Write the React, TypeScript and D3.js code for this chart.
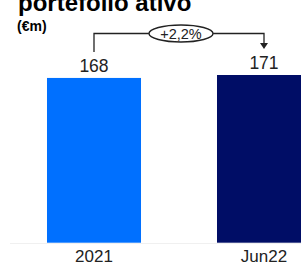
import React from "react";
import * as d3 from "d3";

const categories = ["2021", "Jun22"];
const values = [168, 171];
const valueLabels = ["168", "171"];
const colors = ["#0070ff", "#000d66"];
const changeLabel = "+2,2%";

const width = 301;
const height = 266;
const font = "'Liberation Sans', Arial, sans-serif";

const App = () => {
  const x = d3
    .scaleBand()
    .domain(categories)
    .range([-29, 387])
    .paddingInner(0.447)
    .paddingOuter(0.447);

  const y = d3.scaleLinear().domain([0, 171]).range([242.7, 75]);

  const cx = (c) => x(c) + x.bandwidth() / 2;
  const lineY = 33.5;
  const x1 = cx(categories[0]);
  const x2 = cx(categories[1]);
  const midX = 181;

  return (
    <svg
      width={width}
      height={height}
      style={{ position: "absolute", left: 0, top: 0 }}
      fontFamily={font}
    >
      <text x={18} y={11} fontSize={24} fontWeight="bold" fill="#000">
        portefolio ativo
      </text>
      <text x={17} y={31} fontSize={14} fontWeight="bold" fill="#000">
        (€m)
      </text>

      {/* baseline */}
      <line x1={10} x2={301} y1={243.5} y2={243.5} stroke="#f0f0f0" strokeWidth={1} />

      {categories.map((c, i) => (
        <g key={c}>
          <rect
            x={x(c)}
            y={y(values[i])}
            width={x.bandwidth()}
            height={y(0) - y(values[i])}
            fill={colors[i]}
          />
          <text
            x={cx(c)}
            y={y(values[i]) - 6}
            textAnchor="middle"
            fontSize={17.5}
            fill="#222"
          >
            {valueLabels[i]}
          </text>
          <text x={cx(c)} y={262} textAnchor="middle" fontSize={17} fill="#222">
            {c}
          </text>
        </g>
      ))}

      {/* change bracket */}
      <path
        d={`M${x1},52 V${lineY} H${x2} V44`}
        fill="none"
        stroke="#222"
        strokeWidth={1.3}
      />
      <path d={`M${x2 - 4},43 L${x2 + 4},43 L${x2},49 Z`} fill="#222" />
      <ellipse cx={midX} cy={lineY} rx={32} ry={8.5} fill="#fff" stroke="#222" strokeWidth={1.4} />
      <text x={midX} y={lineY + 5} textAnchor="middle" fontSize={14.5} fill="#222">
        {changeLabel}
      </text>
    </svg>
  );
};

export default App;
